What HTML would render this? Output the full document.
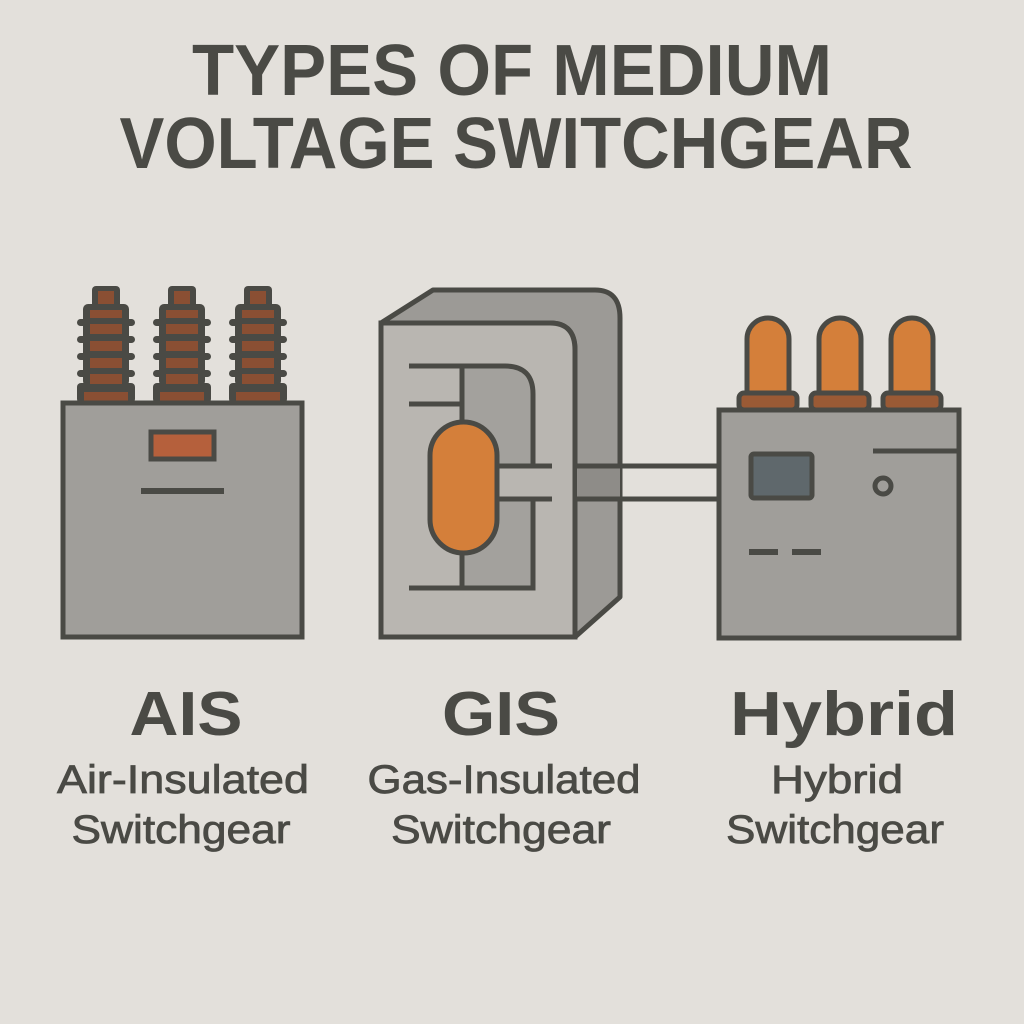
<!DOCTYPE html>
<html><head><meta charset="utf-8"><style>
html,body{margin:0;padding:0;background:#e3e0db;}
svg{display:block;}
text{font-family:"Liberation Sans",sans-serif;fill:#4a4a45;}
</style></head><body>
<svg width="1024" height="1024" viewBox="0 0 1024 1024" xmlns="http://www.w3.org/2000/svg">
<rect width="1024" height="1024" fill="#e3e0db"/>
<text x="512" y="95" text-anchor="middle" font-size="72" font-weight="bold" textLength="640" lengthAdjust="spacingAndGlyphs">TYPES OF MEDIUM</text>
<text x="516" y="168" text-anchor="middle" font-size="72" font-weight="bold" textLength="793" lengthAdjust="spacingAndGlyphs">VOLTAGE SWITCHGEAR</text>

<defs>
<g id="bush">
 <rect x="-14" y="0" width="28" height="24" rx="4" fill="#4a4a45"/>
 <rect x="-8" y="5" width="16" height="17" fill="#8a4f33"/>
 <rect x="-23" y="18" width="46" height="82" rx="5" fill="#4a4a45"/>
 <rect x="-29" y="33" width="58" height="7" rx="3.5" fill="#4a4a45"/>
 <rect x="-29" y="50" width="58" height="7" rx="3.5" fill="#4a4a45"/>
 <rect x="-29" y="67" width="58" height="7" rx="3.5" fill="#4a4a45"/>
 <rect x="-29" y="84" width="58" height="7" rx="3.5" fill="#4a4a45"/>
 <rect x="-29" y="97" width="58" height="20" rx="4" fill="#4a4a45"/>
 <rect x="-16" y="24" width="32" height="8" fill="#8a4f33"/>
 <rect x="-16" y="38" width="32" height="10" fill="#8a4f33"/>
 <rect x="-16" y="55" width="32" height="10" fill="#8a4f33"/>
 <rect x="-16" y="72" width="32" height="10" fill="#8a4f33"/>
 <rect x="-16" y="88" width="32" height="10" fill="#8a4f33"/>
 <rect x="-22" y="106" width="44" height="11" fill="#8a4f33"/>
</g>
<g id="hb">
 <path d="M-21,77 V21 A21,21 0 0 1 21,21 V77 Z" fill="#d47f3a" stroke="#4a4a45" stroke-width="5"/>
 <rect x="-29" y="75" width="58" height="17" rx="5" fill="#9a5a35" stroke="#4a4a45" stroke-width="5"/>
</g>
</defs>

<!-- AIS -->
<use href="#bush" x="106" y="286"/>
<use href="#bush" x="182" y="286"/>
<use href="#bush" x="258" y="286"/>
<rect x="63" y="403" width="239" height="234" fill="#a09e9a" stroke="#4a4a45" stroke-width="5"/>
<rect x="151" y="432" width="63" height="27" fill="#b5603c" stroke="#4a4a45" stroke-width="5"/>
<rect x="141" y="488" width="83" height="6" fill="#4a4a45"/>

<!-- GIS -->
<path d="M381,323 L433,290 L595,290 Q620,290 620,318 L620,597 L575,637 L575,350 Q575,323 550,323 Z" fill="#9c9a96" stroke="#4a4a45" stroke-width="5" stroke-linejoin="round"/>
<path d="M381,323 L550,323 Q575,323 575,350 L575,637 L381,637 Z" fill="#b9b6b1" stroke="#4a4a45" stroke-width="5"/>
<path d="M462,366 L505,366 Q533,366 533,394 L533,588 L462,588 Z" fill="#a3a19d"/>
<rect x="497" y="466" width="55" height="33" fill="#b9b6b1"/>
<path d="M409,366 L505,366 Q533,366 533,394 L533,466" fill="none" stroke="#4a4a45" stroke-width="5"/>
<path d="M533,499 L533,588 L409,588" fill="none" stroke="#4a4a45" stroke-width="5"/>
<line x1="409" y1="404" x2="462" y2="404" stroke="#4a4a45" stroke-width="5"/>
<line x1="462" y1="366" x2="462" y2="588" stroke="#4a4a45" stroke-width="5"/>
<line x1="495" y1="466" x2="552" y2="466" stroke="#4a4a45" stroke-width="5"/>
<line x1="495" y1="499" x2="552" y2="499" stroke="#4a4a45" stroke-width="5"/>
<rect x="430" y="422" width="67" height="131" rx="33.5" fill="#d47f3a" stroke="#4a4a45" stroke-width="5"/>
<rect x="577" y="466" width="43" height="33" fill="#8e8c88"/>
<line x1="577" y1="466" x2="720" y2="466" stroke="#4a4a45" stroke-width="5"/>
<line x1="577" y1="499" x2="720" y2="499" stroke="#4a4a45" stroke-width="5"/>

<!-- Hybrid -->
<use href="#hb" x="768" y="318"/>
<use href="#hb" x="840" y="318"/>
<use href="#hb" x="912" y="318"/>
<rect x="719" y="410" width="240" height="228" fill="#a09e9a" stroke="#4a4a45" stroke-width="5"/>
<rect x="751" y="454" width="61" height="44" rx="3" fill="#5f686c" stroke="#4a4a45" stroke-width="5"/>
<line x1="873" y1="451" x2="958" y2="451" stroke="#4a4a45" stroke-width="5"/>
<circle cx="883" cy="486" r="8" fill="#a09e9a" stroke="#4a4a45" stroke-width="5"/>
<rect x="749" y="549" width="29" height="6" fill="#4a4a45"/>
<rect x="792" y="549" width="29" height="6" fill="#4a4a45"/>

<!-- labels -->
<text x="186" y="735" text-anchor="middle" font-size="62" font-weight="bold" textLength="113" lengthAdjust="spacingAndGlyphs">AIS</text>
<text x="501" y="735" text-anchor="middle" font-size="62" font-weight="bold" textLength="118" lengthAdjust="spacingAndGlyphs">GIS</text>
<text x="844" y="735" text-anchor="middle" font-size="62" font-weight="bold" textLength="228" lengthAdjust="spacingAndGlyphs">Hybrid</text>
<g stroke="#4a4a45" stroke-width="0.8">
<text x="183" y="793" text-anchor="middle" font-size="40" textLength="252" lengthAdjust="spacingAndGlyphs">Air-Insulated</text>
<text x="504" y="793" text-anchor="middle" font-size="40" textLength="273" lengthAdjust="spacingAndGlyphs">Gas-Insulated</text>
<text x="837" y="793" text-anchor="middle" font-size="40" textLength="132" lengthAdjust="spacingAndGlyphs">Hybrid</text>
<text x="181" y="843" text-anchor="middle" font-size="40" textLength="219" lengthAdjust="spacingAndGlyphs">Switchgear</text>
<text x="501" y="843" text-anchor="middle" font-size="40" textLength="220" lengthAdjust="spacingAndGlyphs">Switchgear</text>
<text x="835" y="843" text-anchor="middle" font-size="40" textLength="218" lengthAdjust="spacingAndGlyphs">Switchgear</text>
</g>
</svg>
</body></html>
